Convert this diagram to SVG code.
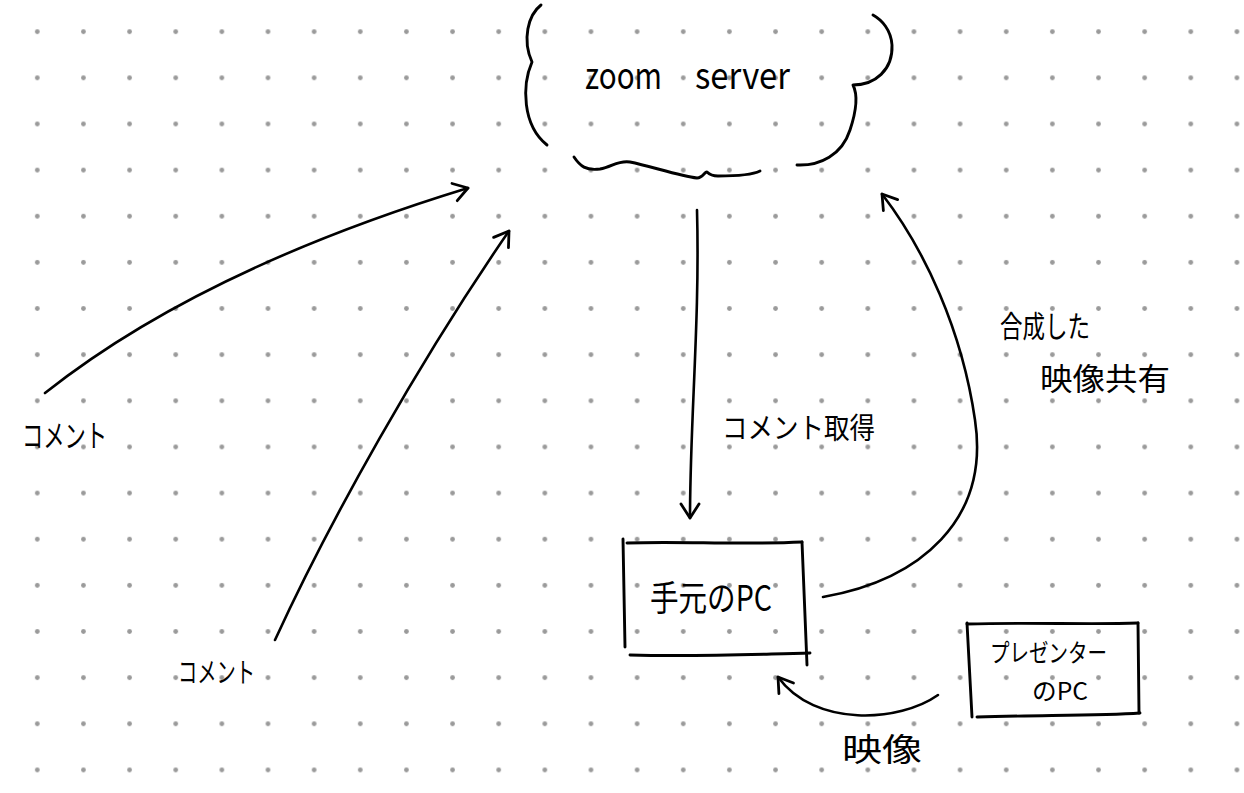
<svg xmlns="http://www.w3.org/2000/svg" width="1244" height="793" viewBox="0 0 1244 793">
<defs>
<pattern id="dots" patternUnits="userSpaceOnUse" x="14.23" y="8.63" width="46.14" height="46.14">
<circle cx="23.07" cy="23.07" r="2.4" fill="#9a9a9a"/>
</pattern>
<marker id="head" markerUnits="userSpaceOnUse" markerWidth="30" markerHeight="30" viewBox="-20 -15 30 30" refX="0" refY="0" orient="auto">
<path d="M-14,-9 L0,0 L-14,9" fill="none" stroke="#000" stroke-width="2.8" stroke-linecap="round" stroke-linejoin="round"/>
</marker>
</defs>
<style>
.ln{fill:none;stroke:#000;stroke-width:2.9;stroke-linecap:round;stroke-linejoin:round}
.ar{fill:none;stroke:#000;stroke-width:2.6;stroke-linecap:round;marker-end:url(#head)}
.t{font-family:"Noto Sans CJK JP","Noto Sans",sans-serif;font-weight:400;fill:#000}
</style>
<rect width="1244" height="793" fill="#fff"/>
<rect width="1244" height="793" fill="url(#dots)"/>

<g id="zoom-server">
<path class="ln" d="M541,5 C528,15 522,40 532,62 C522,85 522,125 547,145"/>
<path class="ln" d="M574,157 C580,166 586,171 600,169 C612,167 618,160 630,162 C650,166 680,176 697,178 C703,178 705,171 707,172 C709,174 711,176 718,176 C740,176 752,175 760,171"/>
<path class="ln" d="M797,165 C820,166 842,155 850,130 C856,112 858,95 853,85 C875,85 893,70 892,45 C891,30 882,20 873,15"/>
<text class="t" x="585" y="89" font-size="37" textLength="77" lengthAdjust="spacingAndGlyphs">zoom</text>
<text class="t" x="695" y="89" font-size="37" textLength="95" lengthAdjust="spacingAndGlyphs">server</text>
</g>

<g id="local-pc">
<path class="ln" d="M623,539 L625,647"/>
<path class="ln" d="M627,543 C680,541 740,545 802,542"/>
<path class="ln" d="M802,542 L807,665"/>
<path class="ln" d="M630,655 C700,657 760,654 810,653"/>
<text class="t" x="650" y="611" font-size="35" textLength="122" lengthAdjust="spacingAndGlyphs">手元のPC</text>
</g>

<g id="presenter-pc">
<path class="ln" d="M967,623 L972,717"/>
<path class="ln" d="M967,624 C1030,622 1090,625 1138,623"/>
<path class="ln" d="M1138,623 L1139,713"/>
<path class="ln" d="M977,717 C1040,715 1100,716 1140,713"/>
<text class="t" x="990" y="662" font-size="25" textLength="117" lengthAdjust="spacingAndGlyphs">プレゼンター</text>
<text class="t" x="1032" y="700" font-size="24" textLength="56" lengthAdjust="spacingAndGlyphs">のPC</text>
</g>

<g id="comment-left">
<text class="t" x="22" y="447" font-size="31" textLength="85" lengthAdjust="spacingAndGlyphs">コメント</text>
</g>
<g id="comment-bottom">
<text class="t" x="178" y="683" font-size="28" textLength="77" lengthAdjust="spacingAndGlyphs">コメント</text>
</g>

<g id="connectors">
<path class="ar" d="M45,393 Q200,270 468,188"/>
<path class="ar" d="M275,640 C330,520 420,360 509,231"/>
<path class="ar" d="M697,210 C700,320 690,420 690,518"/>
<path class="ar" d="M823,597 C920,580 990,520 975,420 C962,330 925,250 882,194"/>
<path class="ar" d="M938,695 C900,722 815,728 778,677"/>
<text class="t" x="722" y="439" font-size="29" textLength="153" lengthAdjust="spacingAndGlyphs">コメント取得</text>
<text class="t" x="1000" y="337" font-size="30" textLength="90" lengthAdjust="spacingAndGlyphs">合成した</text>
<text class="t" x="1040" y="390" font-size="31" textLength="130" lengthAdjust="spacingAndGlyphs">映像共有</text>
<text class="t" x="842" y="761" font-size="32" textLength="80" lengthAdjust="spacingAndGlyphs">映像</text>
</g>
</svg>
